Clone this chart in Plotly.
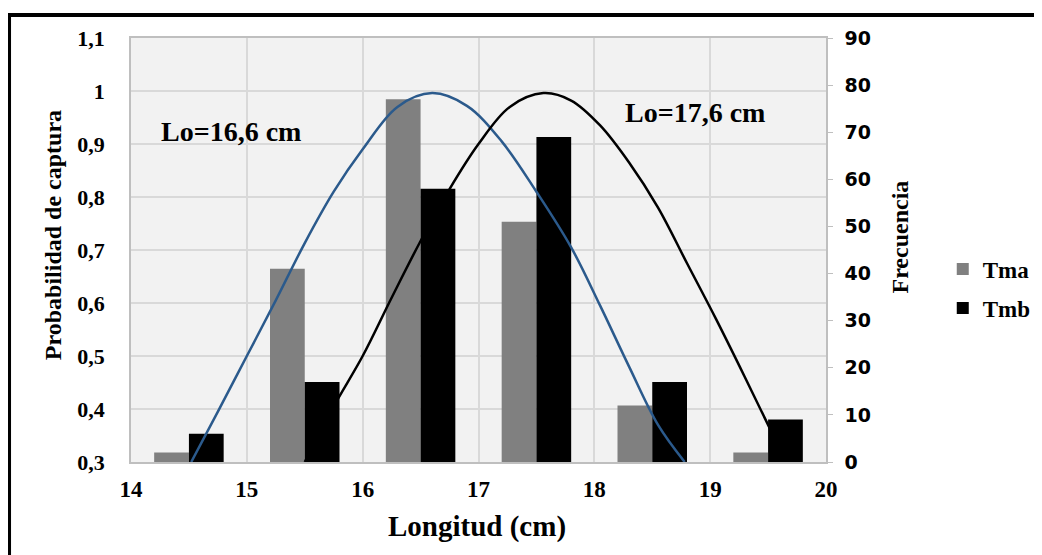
import plotly.graph_objects as go

# ---- data ----
length_classes = [14.5, 15.5, 16.5, 17.5, 18.5, 19.5]
freq_tma = [2, 41, 77, 51, 12, 2]
freq_tmb = [6, 17, 58, 69, 17, 9]

curve_tma_len = [14.52, 14.75, 15.0, 15.25, 15.5, 15.75, 16.0, 16.3, 16.6, 16.9, 17.2, 17.5, 17.8, 18.05, 18.3, 18.55, 18.78]
curve_tma_prob = [0.30, 0.395, 0.50, 0.605, 0.713, 0.81, 0.89, 0.970, 0.996, 0.972, 0.905, 0.81, 0.705, 0.595, 0.48, 0.37, 0.30]

curve_tmb_len = [15.5, 15.75, 16.0, 16.25, 16.5, 16.75, 17.0, 17.27, 17.56, 17.8, 18.05, 18.3, 18.55, 18.8, 19.05, 19.3, 19.5, 19.66]
curve_tmb_prob = [0.30, 0.405, 0.50, 0.61, 0.717, 0.815, 0.90, 0.970, 0.996, 0.982, 0.935, 0.865, 0.78, 0.675, 0.57, 0.46, 0.37, 0.30]

x_ticks = [14, 15, 16, 17, 18, 19, 20]
series_names = ["Tma", "Tmb"]
lo_labels = ["Lo=16,6 cm", "Lo=17,6 cm"]

SERIF = "Liberation Serif"
SANS = "DejaVu Sans"

fig = go.Figure()

fig.add_trace(go.Bar(x=length_classes, y=freq_tma, name=series_names[0], legendgroup="a",
                     marker=dict(color="#808080", line=dict(width=0)), yaxis="y"))
fig.add_trace(go.Bar(x=length_classes, y=freq_tmb, name=series_names[1], legendgroup="b",
                     marker=dict(color="#000000", line=dict(width=0)), yaxis="y"))

fig.add_trace(go.Scatter(x=curve_tma_len, y=curve_tma_prob, mode="lines", yaxis="y2",
                         line=dict(color="#2b5a8c", width=2.5, shape="spline", smoothing=1),
                         showlegend=False, hoverinfo="skip"))
fig.add_trace(go.Scatter(x=curve_tmb_len, y=curve_tmb_prob, mode="lines", yaxis="y2",
                         line=dict(color="#000000", width=2.5, shape="spline", smoothing=1),
                         showlegend=False, hoverinfo="skip"))

fig.update_layout(
    width=1042, height=555,
    margin=dict(l=123, r=224, t=30, b=101, autoexpand=False),
    paper_bgcolor="white",
    plot_bgcolor="#f2f2f2",
    separators=",.",
    barmode="group",
    bargap=0.4,
    bargroupgap=0,
    xaxis=dict(range=[14, 20], tickvals=x_ticks, showgrid=True, gridcolor="#d9d9d9", gridwidth=1.5,
               showline=True, linecolor="#bfbfbf", linewidth=1.5, mirror=True,
               ticks="", ticklabelstandoff=6, automargin=False,
               tickfont=dict(family=SERIF, size=23, color="black", weight="bold"),
               zeroline=False),
    yaxis=dict(range=[0, 90], dtick=10, side="right", showgrid=False, zeroline=False,
               showline=True, linecolor="#bfbfbf", linewidth=1.5, automargin=False,
               ticks="outside", ticklen=5, tickcolor="#bfbfbf", ticklabelstandoff=8,
               tickfont=dict(family=SANS, size=19, color="black", weight="bold")),
    yaxis2=dict(range=[0.3, 1.1], dtick=0.1, tick0=0.3, side="left", overlaying="y",
                showgrid=True, gridcolor="#d9d9d9", gridwidth=1.5, zeroline=False,
                showline=True, linecolor="#bfbfbf", linewidth=1.5, automargin=False,
                ticks="", ticklabelstandoff=20,
                tickfont=dict(family=SERIF, size=22, color="black", weight="bold")),
    legend=dict(x=1.168, y=0.409, xanchor="left", yanchor="middle",
                font=dict(family=SERIF, size=23, color="black", weight="bold"),
                bgcolor="rgba(0,0,0,0)", itemwidth=30, tracegroupgap=6),
    showlegend=True,
)

annos = [
    dict(x=14.867, y=0.9245, xref="x", yref="y2", text=lo_labels[0], showarrow=False,
         xanchor="center", yanchor="middle",
         font=dict(family=SERIF, size=28, color="black", weight="bold")),
    dict(x=18.866, y=0.9594, xref="x", yref="y2", text=lo_labels[1], showarrow=False,
         xanchor="center", yanchor="middle",
         font=dict(family=SERIF, size=28, color="black", weight="bold")),
    dict(x=0.498, y=-0.151, xref="paper", yref="paper", text="Longitud (cm)", showarrow=False,
         xanchor="center", yanchor="middle",
         font=dict(family=SERIF, size=29, color="black", weight="bold")),
    dict(x=-0.1122, y=0.535, xref="paper", yref="paper", text="Probabilidad de captura", showarrow=False,
         xanchor="center", yanchor="middle",
         textangle=-90, font=dict(family=SERIF, size=24, color="black", weight="bold")),
    dict(x=1.106, y=0.531, xref="paper", yref="paper", text="Frecuencia", showarrow=False,
         xanchor="center", yanchor="middle",
         textangle=-90, font=dict(family=SERIF, size=24, color="black", weight="bold")),
]
fig.update_layout(annotations=annos)

# outer frame
fig.add_shape(type="rect", xref="paper", yref="paper",
              x0=-0.1755, x1=1.315, y0=-0.231, y1=1.054,
              line=dict(color="black", width=4), fillcolor="rgba(0,0,0,0)", layer="above")

fig.write_html("out.html")
